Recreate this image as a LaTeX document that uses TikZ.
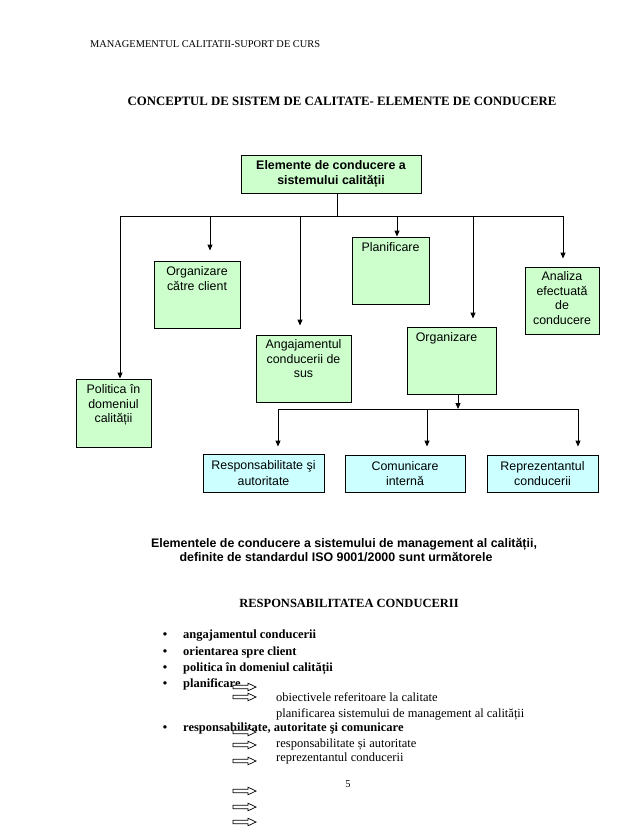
\documentclass[tikz,border=0pt]{standalone}
\usepackage{fontspec}
\setmainfont{Liberation Serif}
\newfontfamily\arialfont{Liberation Sans}
\usetikzlibrary{positioning,arrows.meta}

\definecolor{boxgreen}{RGB}{204,255,204}
\definecolor{boxcyan}{RGB}{204,255,255}

\begin{document}
\begin{tikzpicture}[
    x=1pt, y=-1pt,
    greenbox/.style={draw, line width=0.9pt, fill=boxgreen, inner sep=0pt},
    cyanbox/.style={draw, line width=0.9pt, fill=boxcyan, inner sep=0pt, align=center, font={\arialfont\fontsize{12.4}{15.5}\selectfont}},
    boxtext/.style={inner sep=0pt, align=center, font={\arialfont\fontsize{12.4}{14.5}\selectfont}},
    conn/.style={line width=0.9pt},
    arr/.style={line width=0.9pt, -{Triangle[length=6pt,width=5pt]}},
    bodytext/.style={inner sep=0pt, anchor=base west, font={\fontsize{12.5}{15}\selectfont}},
    itemtext/.style={inner sep=0pt, anchor=base west, font={\bfseries\fontsize{12.5}{15}\selectfont}},
    dot/.style={inner sep=0pt, anchor=base, font={\bfseries\fontsize{12.5}{15}\selectfont}},
]
    \useasboundingbox (0,0) rectangle (638,826);

    %titles
    \node[inner sep=0pt, anchor=base west, font={\fontsize{10.4}{12}\selectfont}] (header) at (90,48) {MANAGEMENTUL CALITATII-SUPORT DE CURS};
    \node[inner sep=0pt, anchor=base, font={\bfseries\fontsize{12.8}{15}\selectfont}] (title) at (342,106) {CONCEPTUL DE SISTEM DE CALITATE- ELEMENTE DE CONDUCERE};

    %boxes
    \node[greenbox, align=center, minimum width=180pt, minimum height=38pt, font={\arialfont\bfseries\fontsize{12.4}{15}\selectfont}] (root) at (331,174) {Elemente de conducere a\\sistemului calității};
    \node[greenbox, minimum width=86pt, minimum height=67pt] (orgclient) at (197,294.5) {};
    \node[greenbox, minimum width=77pt, minimum height=67pt] (planif) at (390.5,270.5) {};
    \node[greenbox, minimum width=74pt, minimum height=67pt] (analiza) at (562,300.5) {};
    \node[greenbox, minimum width=95pt, minimum height=67pt] (angaj) at (303.5,368.5) {};
    \node[greenbox, minimum width=89pt, minimum height=67pt] (organiz) at (451.5,360.5) {};
    \node[greenbox, minimum width=75pt, minimum height=68pt] (politica) at (113.5,413) {};
    \node[cyanbox, minimum width=121pt, minimum height=38pt] (resp) at (263.5,473) {Responsabilitate şi\\autoritate};
    \node[cyanbox, minimum width=120pt, minimum height=37pt] (comun) at (405,473.5) {Comunicare\\internă};
    \node[cyanbox, minimum width=111pt, minimum height=37pt] (repr) at (542.5,473.5) {Reprezentantul\\conducerii};

    %box texts
    \node[boxtext, below=6pt of orgclient.north] (t-orgclient) {Organizare\\către client};
    \node[boxtext, below=6pt of planif.north] (t-planif) {Planificare};
    \node[boxtext, below=5pt of analiza.north] (t-analiza) {Analiza\\efectuată\\de\\conducere};
    \node[boxtext, below=5pt of angaj.north] (t-angaj) {Angajamentul\\conducerii de\\sus};
    \node[boxtext, below=6pt of organiz.north, xshift=-5pt] (t-organiz) {Organizare};
    \node[boxtext, below=6pt of politica.north] (t-politica) {Politica în\\domeniul\\calității};

    %lines
    \coordinate (busL) at (120,216);
    \coordinate (busR) at (563,216);
    \coordinate (rootbus) at (337,216);
    \coordinate (b-orgclient) at (210,216);
    \coordinate (b-angaj) at (300,216);
    \coordinate (b-planif) at (397,216);
    \coordinate (b-organiz) at (473,216);
    \draw[conn] (busL) -- (busR);
    \draw[conn] (root.south -| rootbus) -- (rootbus);
    \draw[arr] (busL) -- (busL |- politica.north);
    \draw[arr, shorten >=10pt] (b-orgclient) -- (b-orgclient |- orgclient.north);
    \draw[arr, shorten >=9pt] (b-angaj) -- (b-angaj |- angaj.north);
    \draw[arr] (b-planif) -- (b-planif |- planif.north);
    \draw[arr, shorten >=8pt] (b-organiz) -- (b-organiz |- organiz.north);
    \draw[arr, shorten >=8pt] (busR) -- (busR |- analiza.north);

    \coordinate (subL) at (278,409);
    \coordinate (subC) at (427,409);
    \coordinate (subR) at (578,409);
    \coordinate (submid) at (458,409);
    \draw[conn] (subL) -- (subR);
    \draw[arr] (submid |- organiz.south) -- (submid);
    \draw[arr, shorten >=7pt] (subL) -- (subL |- resp.north);
    \draw[arr, shorten >=8pt] (subC) -- (subC |- comun.north);
    \draw[arr, shorten >=8pt] (subR) -- (subR |- repr.north);

    %text below
    \node[inner sep=0pt, anchor=base, font={\arialfont\bfseries\fontsize{12.4}{15}\selectfont}] (intro1) at (344,547) {Elementele de conducere a sistemului de management al calității,};
    \node[inner sep=0pt, anchor=base, font={\arialfont\bfseries\fontsize{12.4}{15}\selectfont}] (intro2) at (336,561) {definite de standardul ISO 9001/2000 sunt următorele};
    \node[inner sep=0pt, anchor=base, font={\bfseries\fontsize{12.5}{15}\selectfont}] (resptitle) at (349,607) {RESPONSABILITATEA CONDUCERII};

    \foreach \y in {638,655,671,687,731}
        \node[dot] at (165,\y) {\textbullet};
    \node[itemtext] (item1) at (183,638) {angajamentul conducerii};
    \node[itemtext] (item2) at (183,655) {orientarea spre client};
    \node[itemtext] (item3) at (183,671) {politica în domeniul calității};
    \node[itemtext] (item4) at (183,687) {planificare};
    \node[itemtext] (item5) at (183,731) {responsabilitate, autoritate şi comunicare};

    \node[bodytext] (sub1) at (276,701) {obiectivele referitoare la calitate};
    \node[bodytext] (sub2) at (276,717) {planificarea sistemului de management al calității};
    \node[bodytext] (sub3) at (276,747) {responsabilitate și autoritate};
    \node[bodytext] (sub4) at (276,761) {reprezentantul conducerii};

    \node[inner sep=0pt, anchor=base, font={\fontsize{10.4}{12}\selectfont}] (pagenum) at (348,787) {5};

    %hollow arrows
    \foreach \y in {687,697,732,745,761,791,807,822}
        \draw[line width=0.7pt, fill=white] (233,\y-1.8) -- (248,\y-1.8) -- (248,\y-3.8) -- (256,\y) -- (248,\y+3.8) -- (248,\y+1.8) -- (233,\y+1.8) -- cycle;
\end{tikzpicture}
\end{document}
